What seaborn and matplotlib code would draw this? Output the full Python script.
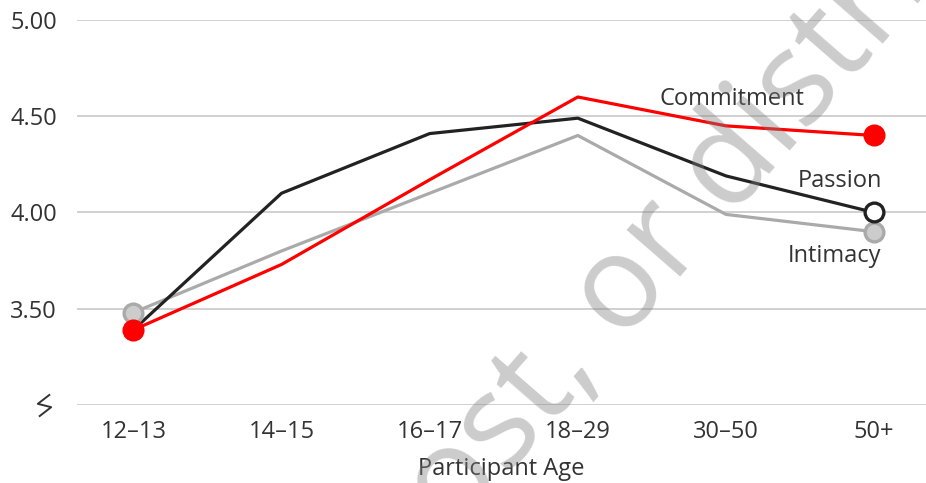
import numpy as np
import pandas as pd
import matplotlib
matplotlib.use("Agg")
import matplotlib.pyplot as plt
import matplotlib.transforms as mtransforms
from matplotlib.path import Path
import seaborn as sns

# -----------------------------
# Data
# -----------------------------
age_groups = ["12–13", "14–15", "16–17", "18–29", "30–50", "50+"]
intimacy = [3.48, 3.80, 4.10, 4.40, 3.99, 3.90]
passion = [3.39, 4.10, 4.41, 4.49, 4.19, 4.00]
commitment = [3.39, 3.73, 4.17, 4.60, 4.45, 4.40]
y_ticks = [3.0, 3.5, 4.0, 4.5, 5.0]

series_order = ["Intimacy", "Passion", "Commitment"]
line_colors = {"Intimacy": "#aaaaaa", "Passion": "#222222", "Commitment": "#ff0000"}
marker_faces = {"Intimacy": "#cccccc", "Passion": "white", "Commitment": "#ff0000"}
start_marked = ["Intimacy", "Commitment"]
label_offsets = {"Commitment": (-50, 21.6), "Passion": (5.8, 18.7), "Intimacy": (5.0, -21.6)}

df = pd.DataFrame({
    "Age": age_groups * 3,
    "Score": intimacy + passion + commitment,
    "Measure": np.repeat(series_order, len(age_groups)),
})

sns.set_style("white")
plt.rcParams["font.family"] = ["Open Sans", "DejaVu Sans"]
TEXT = "#333333"
FS = 17

fig = plt.figure(figsize=(9.26, 4.83), dpi=100)
ax = fig.add_axes([0.0832, 0.1615, 0.9168, 0.7971])

sns.lineplot(data=df, x="Age", y="Score", hue="Measure", hue_order=series_order,
             palette=line_colors, linewidth=2.3, sort=False, legend=False, ax=ax)

# end markers + direct labels
for name in series_order:
    sub = df[df["Measure"] == name]
    pick = sub.iloc[[0, -1]] if name in start_marked else sub.iloc[[-1]]
    ax.plot(pick["Age"], pick["Score"], "o", ms=13.5, mfc=marker_faces[name],
            mec=line_colors[name], mew=2.4, clip_on=False, zorder=4)
    ax.annotate(name, xy=(sub["Age"].iloc[-1], sub["Score"].iloc[-1]),
                xytext=label_offsets[name], textcoords="offset points",
                ha="right", va="baseline", fontsize=FS, color=TEXT)

# axes styling
ax.set_yticks(y_ticks)
ax.set_yticklabels([""] + ["%.2f" % v for v in y_ticks[1:]])
ax.yaxis.grid(True, color="#c4c4c4", linewidth=1.1)
ax.xaxis.grid(False)
ax.tick_params(axis="y", length=0, pad=14.5, labelsize=FS, labelcolor=TEXT)
ax.tick_params(axis="x", length=0, pad=10.5, labelsize=FS, labelcolor=TEXT)
ax.set_xlabel("Participant Age", fontsize=FS, color=TEXT, labelpad=9.5)
ax.set_ylabel("")
sns.despine(ax=ax, left=True, bottom=True)

# axis break symbol at the bottom of the y axis
zig = Path([(0.5, 1.0), (-0.6, 0.15), (0.6, -0.15), (-0.5, -1.0)],
           [Path.MOVETO, Path.LINETO, Path.LINETO, Path.LINETO])
brk = mtransforms.offset_copy(ax.get_yaxis_transform(), fig=fig, x=-33, y=0, units="dots")
ax.plot([0], [y_ticks[0]], marker=zig, ms=16, mew=1.4, color=TEXT, mfc="none",
        ls="none", transform=brk, clip_on=False)

ax.set_xlim(-0.38, 5.35)
ax.set_ylim(y_ticks[0], y_ticks[-1])

# watermark, placed so the "o" of "or" sits where it does in the source
wm_text = "Do not copy, post, or distribute"
wm_fs = 94
angle = 49
renderer = fig.canvas.get_renderer()
p1 = fig.text(0, 0, "Do not copy, post, o", fontsize=wm_fs)
p2 = fig.text(0, 0, "o", fontsize=wm_fs)
ow = p2.get_window_extent(renderer).width
w = p1.get_window_extent(renderer).width - ow
p1.remove()
p2.remove()
em = wm_fs * fig.dpi / 72
th = np.radians(angle)
u = np.array([np.cos(th), np.sin(th)])
n = np.array([-np.sin(th), np.cos(th)])
o_center = np.array([621, 483 - 291])  # pixels from bottom-left
anchor = o_center - u * (w + ow / 2) - n * (0.27 * em)
fig.text(anchor[0] / fig.bbox.width, anchor[1] / fig.bbox.height, wm_text,
         rotation=angle, rotation_mode="anchor", ha="left", va="baseline",
         fontsize=wm_fs, color="#808080", alpha=0.4)

fig.savefig("out.png", dpi=100)
